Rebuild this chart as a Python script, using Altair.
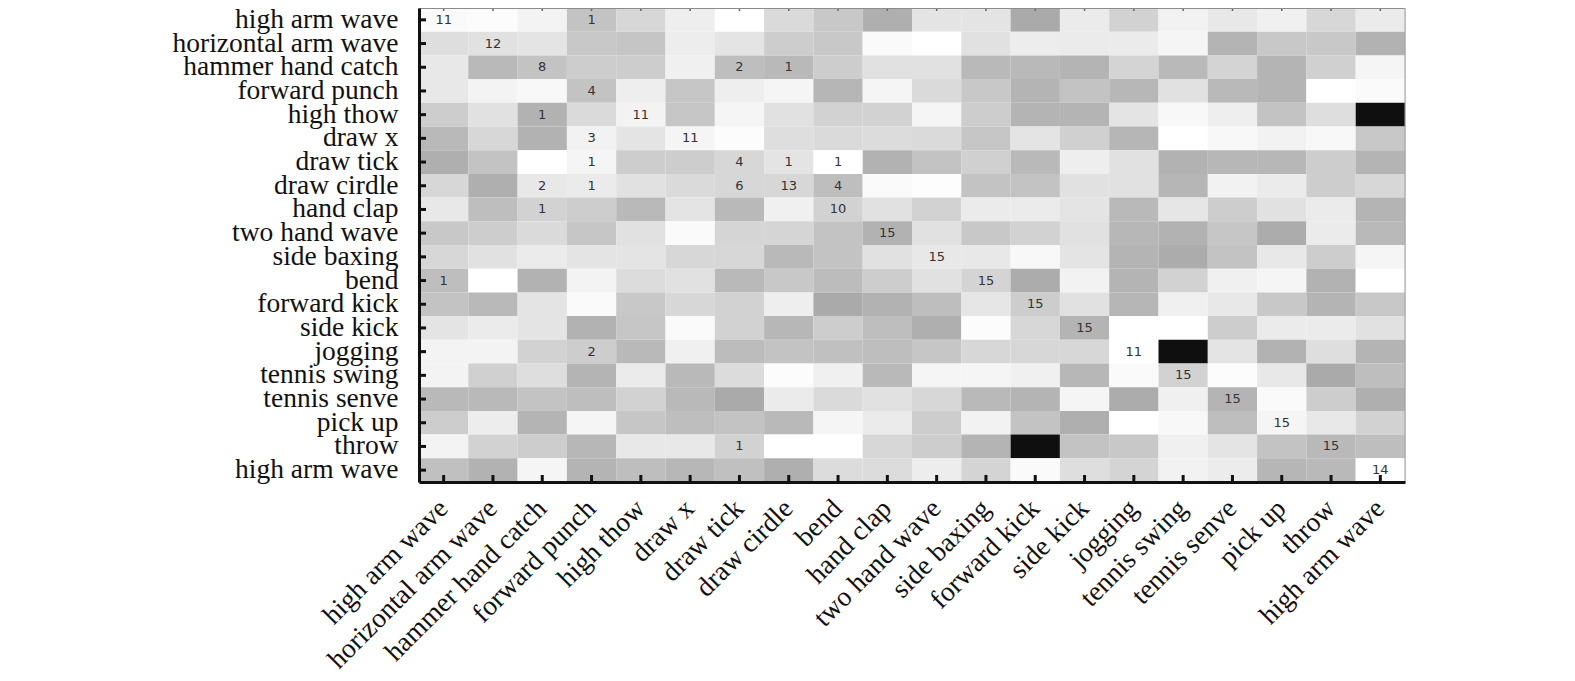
import altair as alt
import pandas as pd

# column labels (left -> right)
x_actions = ["high arm wave", "horizontal arm wave", "hammer hand catch", "forward punch",
             "high thow", "draw x", "draw tick", "draw cirdle", "bend", "hand clap",
             "two hand wave", "side baxing", "forward kick", "side kick", "jogging",
             "tennis swing", "tennis senve", "pick up", "throw", "high arm wave"]
# row labels (top -> bottom)
y_actions = ["high arm wave", "horizontal arm wave", "hammer hand catch", "forward punch",
             "high thow", "draw x", "draw tick", "draw cirdle", "hand clap", "two hand wave",
             "side baxing", "bend", "forward kick", "side kick", "jogging",
             "tennis swing", "tennis senve", "pick up", "throw", "high arm wave"]

# cell gray levels (0 = black, 255 = white), one list per row
gray_rows = [
    [250, 252, 243, 195, 215, 238, 255, 218, 200, 175, 228, 228, 170, 235, 210, 242, 232, 240, 215, 235],
    [222, 225, 228, 200, 197, 237, 228, 205, 200, 250, 255, 225, 237, 235, 235, 245, 180, 200, 200, 178],
    [232, 185, 195, 205, 205, 240, 190, 185, 205, 225, 225, 185, 185, 180, 212, 185, 212, 180, 208, 245],
    [232, 243, 248, 195, 238, 198, 238, 245, 182, 245, 218, 200, 180, 195, 183, 225, 185, 180, 255, 250],
    [205, 225, 178, 218, 243, 198, 245, 225, 210, 210, 245, 205, 180, 180, 228, 248, 238, 195, 222, 15],
    [185, 215, 178, 242, 228, 245, 252, 222, 218, 220, 218, 198, 228, 208, 182, 255, 248, 242, 248, 200],
    [175, 195, 255, 245, 205, 205, 215, 228, 255, 178, 195, 208, 185, 238, 225, 178, 183, 183, 205, 180],
    [215, 175, 232, 235, 225, 218, 215, 215, 190, 250, 253, 195, 195, 225, 225, 182, 242, 235, 205, 215],
    [232, 190, 210, 205, 185, 228, 185, 240, 210, 225, 210, 235, 235, 228, 185, 230, 205, 225, 235, 180],
    [200, 205, 218, 198, 225, 250, 213, 213, 195, 178, 225, 200, 210, 225, 183, 178, 198, 172, 235, 185],
    [215, 225, 235, 228, 228, 215, 215, 185, 195, 225, 232, 232, 248, 228, 180, 172, 195, 232, 205, 245],
    [190, 255, 178, 243, 220, 225, 185, 200, 188, 205, 225, 212, 172, 242, 180, 210, 240, 245, 178, 255],
    [195, 185, 228, 250, 200, 215, 210, 238, 170, 178, 190, 230, 205, 225, 182, 240, 232, 200, 180, 200],
    [228, 235, 228, 178, 198, 250, 210, 183, 205, 190, 175, 252, 215, 180, 255, 255, 205, 235, 235, 225],
    [243, 243, 210, 205, 185, 240, 188, 195, 192, 190, 198, 215, 215, 215, 255, 15, 228, 178, 222, 180],
    [243, 208, 222, 180, 235, 185, 220, 252, 240, 185, 245, 245, 240, 183, 250, 210, 252, 232, 170, 190],
    [185, 185, 195, 190, 210, 185, 170, 235, 218, 225, 215, 185, 180, 245, 172, 240, 180, 250, 205, 175],
    [205, 237, 180, 245, 198, 190, 195, 185, 245, 235, 205, 242, 195, 175, 255, 248, 190, 245, 232, 210],
    [243, 210, 205, 183, 232, 232, 210, 255, 255, 215, 205, 180, 15, 195, 200, 240, 228, 195, 185, 190],
    [192, 178, 245, 180, 190, 183, 192, 175, 220, 220, 237, 212, 250, 222, 212, 242, 236, 182, 185, 255],
]

# numbers written in cells
num_row = [0, 0, 1, 2, 2, 2, 3, 4, 4, 5, 5, 6, 6, 6, 6, 7, 7, 7, 7, 7, 8, 8, 9, 10, 11, 11, 12, 13, 14, 14, 15, 16, 17, 18, 18, 19]
num_col = [0, 3, 1, 2, 6, 7, 3, 2, 4, 3, 5, 3, 6, 7, 8, 2, 3, 6, 7, 8, 2, 8, 9, 10, 0, 11, 12, 13, 3, 14, 15, 16, 17, 6, 18, 19]
num_val = [11, 1, 12, 8, 2, 1, 4, 1, 11, 3, 11, 1, 4, 1, 1, 2, 1, 6, 13, 4, 1, 10, 15, 15, 1, 15, 15, 15, 2, 11, 15, 15, 15, 1, 15, 14]

W, H = 986, 474
N = len(x_actions)

cells = pd.DataFrame([{"r": r, "c": c, "v": gray_rows[r][c]} for r in range(N) for c in range(N)])
nums = pd.DataFrame({"r": num_row, "c": num_col, "n": num_val})
cols_df = pd.DataFrame({"c": list(range(N))})
rows_df = pd.DataFrame({"r": list(range(N))})
one = pd.DataFrame({"k": [0]})


def js_list(items):
    return "[" + ",".join("'%s'" % a for a in items) + "]"


x_enc = alt.X("c:O", scale=alt.Scale(domain=list(range(N)), paddingInner=0, paddingOuter=0),
              axis=alt.Axis(labelExpr=js_list(x_actions) + "[datum.value]", labelAngle=-45,
                            labelAlign="right", labelBaseline="middle",
                            labelFont="Liberation Serif", labelFontSize=27.5, labelColor="#111",
                            labelPadding=22, labelLimit=0, ticks=False, domainColor="#111",
                            domainWidth=3, title=None, grid=False, labelOverlap=False))
y_enc = alt.Y("r:O", scale=alt.Scale(domain=list(range(N)), paddingInner=0, paddingOuter=0),
              axis=alt.Axis(labelExpr=js_list(y_actions) + "[datum.value]",
                            labelFont="Liberation Serif", labelFontSize=27.5, labelColor="#111",
                            labelPadding=21, labelLimit=0, ticks=False, domainColor="#111",
                            domainWidth=3, title=None, grid=False, labelOverlap=False))

rects = alt.Chart(cells).mark_rect(strokeWidth=0).encode(
    x=x_enc, y=y_enc,
    color=alt.Color("v:Q", scale=alt.Scale(domain=[0, 255], range=["#000000", "#ffffff"],
                                           interpolate="rgb"), legend=None),
)

texts = alt.Chart(nums).mark_text(font="DejaVu Sans", fontSize=13, color="#333").encode(
    x=x_enc, y=y_enc, text="n:Q")

bottom_ticks = alt.Chart(cols_df).mark_rule(color="#111", strokeWidth=3).encode(
    x=x_enc, y=alt.value(H - 7), y2=alt.value(H))
top_ticks = alt.Chart(cols_df).mark_rule(color="#666", strokeWidth=1.5).encode(
    x=x_enc, y=alt.value(0), y2=alt.value(3))
left_ticks = alt.Chart(rows_df).mark_rule(color="#111", strokeWidth=3).encode(
    y=y_enc, x=alt.value(0), x2=alt.value(7))
top_border = alt.Chart(one).mark_rule(color="#8c8c8c", strokeWidth=2).encode(
    x=alt.value(0), x2=alt.value(W), y=alt.value(0))
right_border = alt.Chart(one).mark_rule(color="#a0a0a0", strokeWidth=1).encode(
    x=alt.value(W), y=alt.value(0), y2=alt.value(H))

chart = alt.layer(rects, texts, bottom_ticks, top_ticks, left_ticks, top_border, right_border).properties(
    width=W, height=H,
    autosize=alt.AutoSizeParams(type="none"),
    padding={"left": 411, "top": 0, "right": 162, "bottom": 191},
).configure_view(stroke=None).configure(background="white")

chart.save("out.html", embed_options={"renderer": "svg", "actions": False})
